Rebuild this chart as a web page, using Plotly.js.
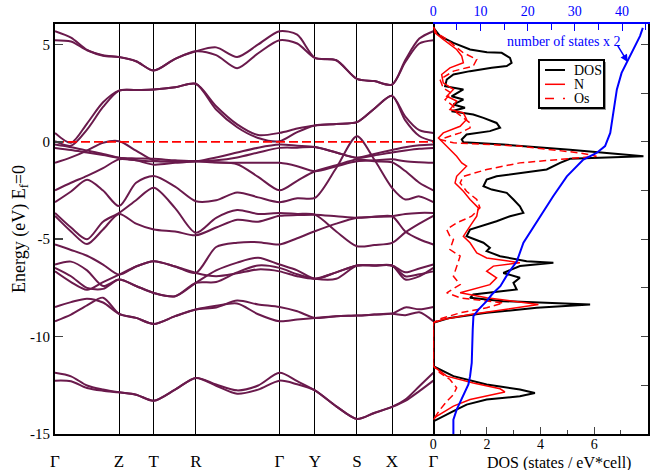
<!DOCTYPE html>
<html><head><meta charset="utf-8">
<script src="https://cdn.plot.ly/plotly-3.0.1.min.js"></script>
<style>html,body{margin:0;padding:0;background:#fff}#chart{width:650px;height:470px}</style>
</head><body><div id="chart"></div>
<script>
// k-path sample positions (arbitrary k-distance units)
const kPath = [0,16,32,48,64,81,98.7,120,140.7,161,182,203,224.3,242,259.7,281,301.7,319,336.7,350,364,378];
const kNodes = [0,64,98.7,140.7,224.3,259.7,301.7,336.7,378];
const kLabels = ['Γ','Z','T','R','Γ','Y','S','X','Γ'];
const fermiLevel = 0;

// band energies (eV) at kPath
const band01 = [5.68,5.35,4.72,4.45,4.35,4.14,3.66,4.26,4.65,4.85,4.36,5.00,5.68,5.50,4.31,4.19,3.23,3.12,2.94,4.20,5.30,5.68];
const band02 = [5.22,5.15,4.70,4.42,4.35,4.14,3.66,4.26,4.65,4.45,3.78,4.55,5.22,5.05,4.31,4.19,3.23,3.12,2.94,4.10,5.05,5.22];
const band03 = [0.46,-0.05,0.94,2.03,2.63,2.66,2.69,2.80,2.98,1.83,0.90,0.35,0.46,0.68,0.84,0.92,1.01,1.70,2.36,1.30,0.60,0.46];
const band04 = [0.03,-0.20,0.63,1.79,2.63,2.66,2.69,2.80,2.98,1.66,0.75,0.20,0.03,0.50,0.84,0.92,1.01,1.70,2.36,1.10,0.30,0.03];
const band05 = [-0.14,-0.28,-0.45,-0.62,-0.82,-0.95,-1.17,-1.08,-1.00,-0.80,-0.55,-0.30,-0.14,-0.20,-0.27,-0.55,-0.82,-0.62,-0.42,-0.28,-0.18,-0.14];
const band06 = [-0.31,-0.42,-0.55,-0.68,-0.82,-0.85,-0.87,-0.95,-1.00,-0.95,-0.80,-0.55,-0.31,-0.30,-0.27,-0.55,-0.82,-0.70,-0.55,-0.45,-0.36,-0.31];
const band07 = [-1.08,-0.80,-0.45,-0.05,0.03,-0.45,-0.95,-1.02,-1.00,-1.06,-1.07,-1.08,-1.08,-1.25,-1.51,-1.25,-1.00,-0.95,-0.90,-1.00,-1.05,-1.08];
const band08 = [-2.49,-2.10,-1.75,-1.35,-0.90,-0.95,-1.00,-1.00,-1.00,-1.05,-1.15,-1.80,-2.49,-2.00,-1.51,-1.20,-0.91,-1.00,-1.05,-1.50,-2.10,-2.49];
const band09 = [-3.10,-2.55,-1.95,-2.50,-3.30,-2.10,-1.75,-2.30,-3.05,-3.00,-2.60,-2.85,-3.10,-2.90,-2.88,-1.34,0.29,-0.91,-2.36,-2.96,-2.80,-3.10];
const band10 = [-3.65,-4.40,-5.00,-4.10,-3.65,-3.00,-2.36,-3.40,-4.67,-3.90,-3.50,-3.70,-3.65,-3.70,-3.74,-4.60,-5.36,-5.30,-5.19,-4.65,-4.20,-3.80];
const band11 = [-3.80,-4.60,-5.25,-4.50,-3.70,-4.20,-4.50,-4.60,-4.80,-4.40,-4.00,-4.10,-3.80,-3.76,-3.74,-3.82,-3.90,-3.85,-3.82,-3.70,-3.65,-3.65];
const band12 = [-5.27,-5.55,-5.85,-6.30,-6.82,-6.40,-6.13,-6.40,-6.73,-5.40,-5.18,-5.15,-5.27,-4.95,-4.59,-4.20,-3.90,-3.85,-3.82,-4.60,-5.00,-5.27];
const band13 = [-6.30,-6.15,-6.60,-7.40,-7.07,-7.40,-7.76,-7.93,-7.24,-6.60,-6.20,-5.95,-6.30,-6.60,-7.03,-6.70,-6.35,-6.35,-6.35,-6.70,-6.50,-6.30];
const band14 = [-6.47,-6.90,-7.50,-7.55,-7.07,-7.40,-7.76,-7.93,-7.24,-7.20,-6.70,-6.35,-6.47,-6.80,-7.03,-7.03,-6.35,-6.35,-6.35,-7.07,-6.90,-6.47];
const band15 = [-6.65,-7.20,-7.60,-7.20,-6.82,-6.40,-6.13,-6.40,-6.73,-6.90,-6.75,-6.55,-6.65,-6.90,-7.03,-6.70,-6.35,-6.35,-6.35,-6.90,-6.80,-6.65];
const band16 = [-8.48,-8.23,-8.05,-8.25,-8.83,-9.04,-9.35,-8.95,-8.61,-8.50,-8.15,-8.35,-8.48,-8.70,-9.04,-8.95,-8.92,-8.87,-8.82,-8.50,-8.60,-8.48];
const band17 = [-9.21,-8.87,-8.40,-8.00,-8.83,-9.04,-9.35,-8.95,-8.61,-8.42,-8.30,-8.85,-9.21,-9.12,-9.04,-8.95,-8.92,-8.87,-8.82,-8.90,-8.75,-9.21];
const band18 = [-11.86,-12.04,-12.51,-12.72,-12.86,-12.98,-13.29,-12.72,-12.12,-12.46,-12.76,-12.51,-11.86,-12.29,-12.76,-13.58,-14.23,-13.92,-13.61,-13.23,-12.55,-11.86];
const band19 = [-12.26,-12.29,-12.64,-12.78,-12.86,-12.98,-13.29,-12.72,-12.12,-12.52,-12.93,-12.72,-12.26,-12.45,-12.76,-13.58,-14.23,-13.92,-13.61,-13.30,-12.80,-12.26];

// DOS (states / eV*cell) vs energy
const dosEnergy = [5.9,5.77,5.43,5.08,4.74,4.6,4.57,4.31,4.06,3.89,3.8,3.63,3.46,3.2,2.86,2.69,2.34,2.17,1.92,1.75,1.57,1.4,1.23,0.97,0.72,0.55,0.38,0.12,-0.02,-0.14,-0.4,-0.74,-0.87,-1.08,-1.42,-1.59,-1.77,-1.94,-2.28,-2.45,-2.62,-2.96,-3.31,-3.65,-3.82,-4.08,-4.5,-4.85,-5.18,-5.44,-5.61,-5.87,-6.13,-6.21,-6.38,-6.73,-6.98,-7.24,-7.58,-7.84,-8.01,-8.18,-8.35,-8.52,-8.78,-9.04,-9.29,-11.52,-12.03,-12.46,-12.72,-12.89,-13.06,-13.23,-13.49,-13.83,-14.17,-14.35];
const dosTotal = [0,0.05,0.25,0.75,1.37,2.0,2.55,2.86,2.92,2.74,2.18,1.37,0.75,0.5,0.44,1.12,0.68,1.12,0.75,1.18,0.68,1.49,1.87,2.36,2.49,2.11,1.24,1.06,1.12,2.61,5.1,7.84,5.1,4.73,4.23,3.23,2.36,1.99,1.87,2.18,2.74,2.99,3.23,3.36,2.86,2.36,1.37,1.24,1.87,2.11,1.99,2.49,3.48,4.48,3.23,2.61,3.23,2.99,3.11,1.49,1.37,2.61,5.85,3.86,1.99,0.62,0,0,0.75,1.99,3.23,3.79,3.23,1.99,1.24,0.75,0.25,0];
const nEnergy = [5.9,5.6,5.26,4.74,4.4,4.06,3.8,3.46,3.03,2.69,2.34,2.09,1.66,1.49,1.15,0.8,0.46,0.2,-0.05,-0.4,-0.74,-1.08,-1.25,-1.77,-2.11,-2.54,-2.96,-3.39,-3.82,-4.33,-4.85,-5.18,-5.7,-5.96,-6.21,-6.38,-6.64,-6.98,-7.33,-7.75,-8.01,-8.35,-8.61,-8.87,-9.12,-9.29,-11.52,-12.03,-12.38,-12.68,-12.84,-13.06,-13.23,-13.57,-14.09,-14.26];
const nDos = [0,0.06,0.37,0.87,1.06,1.12,0.62,0.31,0.37,0.75,0.5,0.87,0.62,1.12,1.24,1.0,0.37,0.19,0.37,0.62,0.87,1.06,1.24,0.87,0.81,1.12,1.37,1.68,1.62,1.37,1.12,1.37,1.62,1.99,3.23,2.24,1.99,2.36,2.11,1.0,1.99,3.92,2.61,1.37,0.37,0,0,0.5,1.49,2.49,2.67,1.99,1.37,0.75,0.12,0];
const osEnergy = [5.9,5.6,5.26,4.57,4.23,3.89,3.63,3.2,2.77,2.5,2.17,1.83,1.49,0.97,0.72,0.46,0.12,-0.05,-0.22,-0.57,-0.74,-0.91,-1.08,-1.42,-1.77,-2.11,-2.54,-2.96,-3.39,-3.82,-4.16,-4.5,-4.85,-5.01,-5.53,-5.87,-6.38,-6.9,-7.33,-7.75,-8.01,-8.27,-8.52,-8.78,-9.09,-9.29,-11.52,-11.86,-12.2,-12.63,-12.98,-13.32,-13.75,-14.26];
const osDos = [0,0.12,0.5,1.12,1.62,1.49,0.75,0.25,0.37,0.68,0.44,0.75,0.87,1.37,1.37,1.0,0.25,0.75,3.23,5.47,6.09,4.73,3.23,1.99,1.12,1.0,1.24,1.62,1.74,1.43,0.87,0.5,0.62,0.75,0.62,1.0,0.87,0.75,1.0,0.5,1.0,2.61,1.99,1.0,0.25,0,0,0.25,0.62,0.87,0.75,0.5,0.25,0];
// integrated number of states x 2
const nosEnergy = [-15.03,-14.26,-13.75,-13.06,-12.46,-12.03,-11.35,-9.64,-8.95,-8.61,-8.18,-7.84,-7.41,-6.73,-6.13,-5.18,-4.5,-3.82,-2.79,-1.77,-0.91,-0.57,-0.22,0.46,1.66,2.69,3.54,4.06,4.74,5.43,5.85];
const nosCount = [4.25,4.25,4.95,6.37,7.43,7.79,8.14,8.35,8.5,9.56,11.3,12.4,14.2,15.9,17.7,19.1,20.9,22.6,25.4,28.3,31.8,34.6,36.4,37.5,38.2,38.9,39.9,41.0,42.4,43.8,44.4];

const yTickVals = [-15,-10,-5,0,5];
const yTickText = ['-15','-10','-5','0','5'];
const dosTickVals = [0,2,4,6,8];
const rightTickVals = [-15,-12.5,-10,-7.5,-5,-2.5,0,2.5,5];
const seriesNames = ['DOS','N','Os'];

const bands = [band01,band02,band03,band04,band05,band06,band07,band08,band09,band10,band11,band12,band13,band14,band15,band16,band17,band18,band19];
const bandColor = '#6a1a4c';
const F = 'Liberation Serif, Times New Roman, serif';
const dosStyles = [
  {color: '#000000', width: 2, dash: 'solid'},
  {color: '#ff0000', width: 1.5, dash: 'solid'},
  {color: '#ff0000', width: 1.5, dash: '7px,4px'}
];

const traces = bands.map(b => ({
  x: kPath, y: b, xaxis: 'x', yaxis: 'y', mode: 'lines',
  line: {color: bandColor, width: 2, shape: 'spline', smoothing: 0.8},
  showlegend: false, hoverinfo: 'skip'
}));
traces.push({x: [kNodes[0], kNodes[kNodes.length-1]], y: [fermiLevel, fermiLevel], xaxis: 'x', yaxis: 'y', mode: 'lines',
  line: {color: '#ff0000', width: 1.6, dash: '9px,4px'}, showlegend: false, hoverinfo: 'skip'});
[[dosTotal, dosEnergy], [nDos, nEnergy], [osDos, osEnergy]].forEach((s, i) => {
  traces.push({x: s[0], y: s[1], xaxis: 'x2', yaxis: 'y2', mode: 'lines', name: seriesNames[i],
    line: dosStyles[i], showlegend: false});
});
traces.push({x: nosCount, y: nosEnergy, xaxis: 'x3', yaxis: 'y2', mode: 'lines', name: 'number of states x 2',
  line: {color: '#0000ff', width: 2}, showlegend: false});

// pixel -> paper helpers for the inset legend box
const px = x => (x - 55) / 593;
const py = y => (434 - y) / 410;
const shapes = [
  {type: 'rect', xref: 'paper', yref: 'paper', x0: px(541), x1: px(606), y0: py(62), y1: py(110),
    fillcolor: '#999999', line: {width: 0}},
  {type: 'rect', xref: 'paper', yref: 'paper', x0: px(539), x1: px(604), y0: py(60), y1: py(108),
    fillcolor: '#ffffff', line: {color: '#000', width: 2}}
];
const annotations = [
  {text: 'DOS (states / eV*cell)', xref: 'paper', yref: 'paper', x: px(559), y: py(463),
    xanchor: 'center', yanchor: 'middle', showarrow: false, font: {family: F, size: 16}},
  {text: 'number of states x 2', xref: 'paper', yref: 'paper', x: px(564), y: py(41),
    xanchor: 'center', yanchor: 'middle', showarrow: false, font: {family: F, size: 14, color: '#0000ff'}},
  {text: '', xref: 'x3', yref: 'y2', x: 41.2, y: 4.1, axref: 'x3', ayref: 'y2', ax: 38.9, ay: 5.0,
    showarrow: true, arrowhead: 2, arrowsize: 1, arrowwidth: 1.5, arrowcolor: '#0000ff'}
];
seriesNames.forEach((name, i) => {
  const yy = 70 + i * 14.3;
  shapes.push({type: 'line', xref: 'paper', yref: 'paper', x0: px(545), x1: px(565), y0: py(yy), y1: py(yy),
    line: {color: dosStyles[i].color, width: dosStyles[i].width, dash: i === 2 ? 'dash' : 'solid'}});
  annotations.push({text: name, xref: 'paper', yref: 'paper', x: px(572), y: py(yy), xanchor: 'left', yanchor: 'middle',
    showarrow: false, font: {family: F, size: 14, color: '#000'}});
});

const layout = {
  width: 650, height: 470,
  margin: {l: 55, r: 2, t: 24, b: 36},
  paper_bgcolor: '#ffffff', plot_bgcolor: '#ffffff',
  font: {family: F, size: 15, color: '#000'},
  showlegend: false,
  xaxis: {domain: [0, 0.638], range: [0, 378], tickvals: kNodes, ticktext: kLabels, ticks: '',
    showgrid: true, gridcolor: '#000', gridwidth: 1, showline: true, linecolor: '#000', linewidth: 2,
    mirror: true, zeroline: false, tickfont: {family: F, size: 17}, ticklabelstandoff: 11},
  yaxis: {domain: [0, 1], range: [-15, 6.05], anchor: 'x', tickvals: yTickVals, ticktext: yTickText,
    ticks: 'inside', ticklen: 8, tickwidth: 1.5, showline: true, linecolor: '#000', linewidth: 2, mirror: true,
    showgrid: false, zeroline: false, tickfont: {family: F, size: 15},
    title: {text: 'Energy (eV) E<sub>f</sub>=0', font: {family: F, size: 18}, standoff: 0}},
  xaxis2: {domain: [0.638, 1], range: [0, 8.01], anchor: 'y2', tickvals: dosTickVals, ticks: 'inside', ticklen: 7,
    minor: {dtick: 1, ticks: 'inside', ticklen: 4}, showline: true, linecolor: '#000', linewidth: 2,
    showgrid: false, zeroline: false, tickfont: {family: F, size: 14}, ticklabelstandoff: -4},
  yaxis2: {domain: [0, 1], range: [-15, 6.05], anchor: 'x2', side: 'right', tickvals: rightTickVals,
    ticks: 'inside', ticklen: 7, showticklabels: false, showline: true, linecolor: '#000', linewidth: 2,
    showgrid: false, zeroline: false},
  xaxis3: {overlaying: 'x2', side: 'top', anchor: 'y2', range: [0, 45.5], dtick: 10, tick0: 0,
    ticks: 'inside', ticklen: 7, tickcolor: '#0000ff', minor: {dtick: 5, ticks: 'inside', ticklen: 6, tickcolor: '#0000ff'},
    showline: true, linecolor: '#0000ff', linewidth: 2, showgrid: false, zeroline: false,
    tickfont: {family: F, size: 14, color: '#0000ff'}},
  shapes: shapes,
  annotations: annotations
};

Plotly.newPlot('chart', traces, layout, {displayModeBar: false, staticPlot: true});
</script>
</body></html>
